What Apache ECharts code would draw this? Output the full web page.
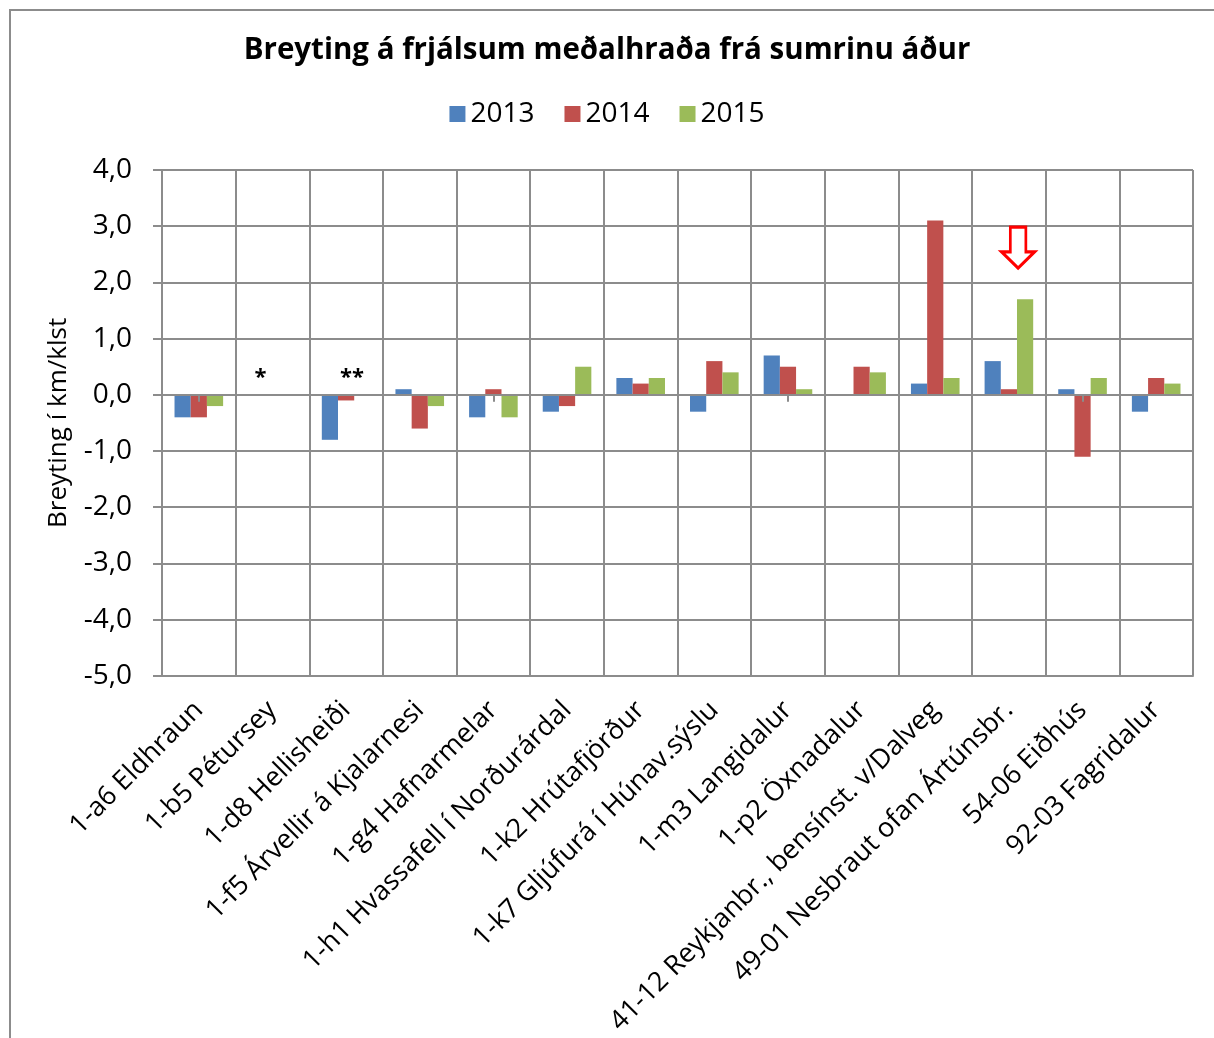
<!DOCTYPE html>
<html>
<head>
<meta charset="utf-8">
<script src="https://cdn.jsdelivr.net/npm/echarts@6/dist/echarts.min.js"></script>
<style>
  html, body { margin: 0; padding: 0; background: #fff; }
  #frame { position: absolute; left: 9px; top: 9px; width: 1205px; height: 1029px;
           border-left: 2px solid #8c8c8c; border-top: 2px solid #8c8c8c; }
  #chart { position: absolute; left: 0; top: 0; width: 1214px; height: 1038px; }
</style>
</head>
<body>
<div id="frame"></div>
<div id="chart"></div>
<script>
var categories = [
  '1-a6 Eldhraun',
  '1-b5 Pétursey',
  '1-d8 Hellisheiði',
  '1-f5 Árvellir á Kjalarnesi',
  '1-g4 Hafnarmelar',
  '1-h1 Hvassafell í Norðurárdal',
  '1-k2 Hrútafjörður',
  '1-k7 Gljúfurá í Húnav.sýslu',
  '1-m3 Langidalur',
  '1-p2 Öxnadalur',
  '41-12 Reykjanbr., bensínst. v/Dalveg',
  '49-01 Nesbraut ofan Ártúnsbr.',
  '54-06 Eiðhús',
  '92-03 Fagridalur'
]
var years = ['2013', '2014', '2015']
var values2013 = [-0.4, null, -0.8, 0.1, -0.4, -0.3, 0.3, -0.3, 0.7, null, 0.2, 0.6, 0.1, -0.3]
var values2014 = [-0.4, null, -0.1, -0.6, 0.1, -0.2, 0.2, 0.6, 0.5, 0.5, 3.1, 0.1, -1.1, 0.3]
var values2015 = [-0.2, null, null, -0.2, -0.4, 0.5, 0.3, 0.4, 0.1, 0.4, 0.3, 1.7, 0.3, 0.2]
var colors = ['#4F81BD', '#C0504D', '#9BBB59']
// footnote marks and highlight arrow
var notes = [
  { cat: '1-b5 Pétursey', y: 0.3, text: '*', dx: -12 },
  { cat: '1-d8 Hellisheiði', y: 0.3, text: '**', dx: 6 }
]
var arrowAt = { cat: '49-01 Nesbraut ofan Ártúnsbr.', y: 2.62 }

var font = "'Open Sans', 'DejaVu Sans', sans-serif"
var gridColor = '#8c8c8c'

var myChart = echarts.init(document.getElementById('chart'), null, { renderer: 'canvas' })

var seriesData = [values2013, values2014, values2015]
var series = years.map(function(y, i) {
  return {
    name: y,
    type: 'bar',
    data: seriesData[i],
    barGap: '0%',
    barCategoryGap: '34%',
    itemStyle: { color: colors[i] }
  }
})

series[1].markPoint = {
  symbol: 'circle',
  symbolSize: 0,
  silent: true,
  label: {
    show: true,
    position: 'inside',
    color: '#000',
    fontFamily: font,
    fontWeight: 'bold',
    fontSize: 22
  },
  data: notes.map(function(n) {
    return { coord: [n.cat, n.y], value: n.text, label: { formatter: n.text, offset: [n.dx, 0] } }
  })
}

series[2].markPoint = {
  symbol: 'path://M9,0 L25,0 L25,26 L34,26 L17,43 L0,26 L9,26 Z',
  symbolSize: [33, 41],
  symbolOffset: [-7, 0],
  silent: true,
  itemStyle: { color: '#fff', borderColor: '#ff0000', borderWidth: 3 },
  label: { show: false },
  data: [{ coord: [arrowAt.cat, arrowAt.y] }]
}

var option = {
  animation: false,
  textStyle: { fontFamily: font },
  title: {
    text: 'Breyting á frjálsum meðalhraða frá sumrinu áður',
    left: 'center',
    top: 31,
    textStyle: { fontFamily: font, fontWeight: 'bold', fontSize: 29.5, color: '#000' }
  },
  legend: {
    data: years,
    top: 95,
    left: 'center',
    itemWidth: 16,
    itemHeight: 16,
    itemGap: 30,
    icon: 'rect',
    textStyle: { fontFamily: font, fontSize: 28, color: '#000' }
  },
  grid: {
    left: 162,
    right: 21,
    top: 170,
    bottom: 361,
    containLabel: false
  },
  xAxis: [
    {
      type: 'category',
      data: categories,
      position: 'bottom',
      axisLine: { onZero: false, show: true, lineStyle: { color: gridColor, width: 2 } },
      axisTick: { show: false },
      splitLine: { show: true, lineStyle: { color: gridColor, width: 2 } },
      axisLabel: {
        interval: 0,
        rotate: 45,
        margin: 30,
        fontFamily: font,
        fontSize: 27,
        color: '#000'
      }
    },
    {
      type: 'category',
      data: categories,
      position: 'top',
      z: 5,
      axisLine: { onZero: true, show: true, lineStyle: { color: gridColor, width: 2 } },
      axisTick: { show: true, inside: true, alignWithLabel: true, length: 7, lineStyle: { color: gridColor, width: 2 } },
      axisLabel: { show: false },
      splitLine: { show: false }
    }
  ],
  yAxis: {
    type: 'value',
    min: -5,
    max: 4,
    interval: 1,
    name: 'Breyting í km/klst',
    nameLocation: 'middle',
    nameRotate: 90,
    nameGap: 90,
    nameTextStyle: { fontFamily: font, fontSize: 26, color: '#000' },
    axisLine: { show: true, lineStyle: { color: gridColor, width: 2 } },
    axisTick: { show: true, length: 9, lineStyle: { color: gridColor, width: 2 } },
    splitLine: { show: true, lineStyle: { color: gridColor, width: 2 } },
    axisLabel: {
      margin: 30,
      fontFamily: font,
      fontSize: 28,
      color: '#000',
      formatter: function(v) {
        return v.toFixed(1).replace('.', ',')
      }
    }
  },
  series: series
}

option && myChart.setOption(option)
</script>
</body>
</html>
